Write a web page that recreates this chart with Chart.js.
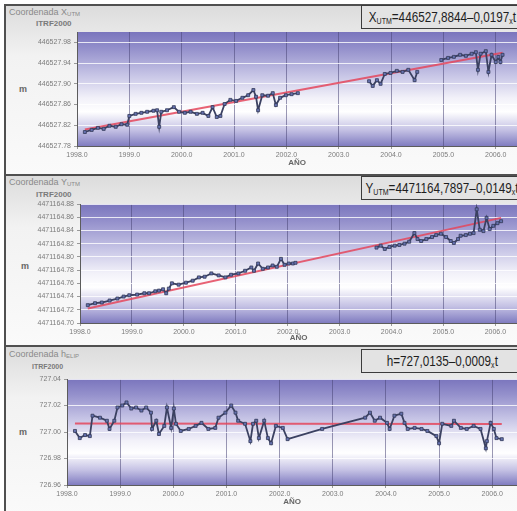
<!DOCTYPE html>
<html lang="es">
<head>
    <meta charset="UTF-8">
    <title>Series temporales de coordenadas</title>
    <script src="https://cdn.jsdelivr.net/npm/chart.js"></script>
    <style>
        html, body {
            margin: 0;
            padding: 0;
            width: 517px;
            height: 511px;
            overflow: hidden;
            background: #ffffff;
            font-family: Arial, "Liberation Sans", sans-serif;
        }
        .panel {
            position: absolute;
            left: 4px;
            width: 530px;
            border-top: 2px solid #505050;
            border-left: 2px solid #505050;
            background: linear-gradient(#dcdcdc, #f2f2f2 30%, #fafafa);
        }
        .panel canvas {
            position: absolute;
            left: 0;
        }
        .ttl {
            position: absolute;
            left: 3px;
            font-size: 9px;
            color: #8a8a8a;
            white-space: nowrap;
        }
        .ttl sub { font-size: 6px; vertical-align: -1px; }
        .sub {
            position: absolute;
            font-size: 8px;
            font-weight: bold;
            color: #7a7a7a;
        }
        .unit {
            position: absolute;
            font-size: 9px;
            font-weight: bold;
            color: #666;
        }
        .eq {
            position: absolute;
            left: 355px;
            width: 160px;
            height: 22px;
            border: 1.5px solid #3c3c3c;
            background: #e3e3e3;
            display: flex;
            justify-content: center;
            align-items: center;
            font-size: 15px;
            color: #1e1e1e;
            white-space: nowrap;
        }
        .eq span {
            display: inline-block;
            flex-shrink: 0;
            transform: scaleX(0.78);
        }
        .eq sub { font-size: 9px; vertical-align: -2px; }
    </style>
</head>
<body>
    <!-- X UTM -->
    <div class="panel" style="top:4px; height:168px;">
        <div class="ttl" style="top:1px;">Coordenada X<sub>UTM</sub></div>
        <div class="sub" style="left:30px; top:13px;">ITRF2000</div>
        <div class="unit" style="left:13px; top:78px;">m</div>
        <canvas id="chartX" width="516" height="162" style="top:0;"></canvas>
        <div class="eq" style="top:-1px;"><span>X<sub>UTM</sub>=446527,8844–0,0197<sub>x</sub>t</span></div>
    </div>

    <!-- Y UTM -->
    <div class="panel" style="top:174px; height:170px;">
        <div class="ttl" style="top:1px;">Coordenada Y<sub>UTM</sub></div>
        <div class="sub" style="left:30px; top:14px;">ITRF2000</div>
        <div class="unit" style="left:15px; top:85px;">m</div>
        <canvas id="chartY" width="516" height="167" style="top:0;"></canvas>
        <div class="eq" style="top:0px;"><span>Y<sub>UTM</sub>=4471164,7897–0,0149<sub>x</sub>t</span></div>
    </div>

    <!-- Altura elipsoidal -->
    <div class="panel" style="top:345px; height:170px;">
        <div class="ttl" style="top:2px;">Coordenada h<sub>ELIP</sub></div>
        <div class="sub" style="left:26px; top:16px; font-size:7px;">ITRF2000</div>
        <div class="unit" style="left:13px; top:80px;">m</div>
        <canvas id="chartH" width="516" height="160" style="top:0;"></canvas>
        <div class="eq" style="top:2px;"><span>h=727,0135–0,0009<sub>x</sub>t</span></div>
    </div>

    <script>
        // Tick values
        const yearTicks = [1998, 1999, 2000, 2001, 2002, 2003, 2004, 2005, 2006];
        const xUtmTicks = [446527.78, 446527.80, 446527.82, 446527.84, 446527.86, 446527.88,
                           446527.90, 446527.92, 446527.94, 446527.96, 446527.98, 446528.00];
        const yUtmTicks = [4471164.70, 4471164.72, 4471164.74, 4471164.76, 4471164.78,
                           4471164.80, 4471164.82, 4471164.84, 4471164.86, 4471164.88];
        const hTicks = [726.96, 726.98, 727.00, 727.02, 727.04];

        // X UTM series (null = no observations, the line breaks there)
        const xYears = [1998.15, 1998.28, 1998.40, 1998.51, 1998.62, 1998.74, 1998.85, 1998.96,
            1999.00, 1999.12, 1999.23, 1999.34, 1999.46, 1999.53, 1999.57, 1999.61, 1999.72, 1999.85, 1999.95,
            2000.06, 2000.17, 2000.29, 2000.40, 2000.51, 2000.59, 2000.67, 2000.74, 2000.82, 2000.93,
            2001.04, 2001.16, 2001.27, 2001.37, 2001.42, 2001.46, 2001.54, 2001.65, 2001.74, 2001.80, 2001.88, 2001.99,
            2002.10, 2002.22, 2002.90,
            2003.58, 2003.65, 2003.73, 2003.80, 2003.88, 2003.99,
            2004.11, 2004.22, 2004.33, 2004.45, 2004.50, 2004.73, 2004.96,
            2005.09, 2005.20, 2005.32, 2005.43, 2005.54, 2005.62, 2005.66, 2005.71, 2005.81, 2005.86, 2005.92,
            2006.00, 2006.05, 2006.09, 2006.13];
        const xUtm = [446527.807, 446527.811, 446527.815, 446527.813, 446527.819, 446527.817, 446527.822, 446527.821,
            446527.838, 446527.842, 446527.844, 446527.846, 446527.848, 446527.849, 446527.817, 446527.846, 446527.849, 446527.855, 446527.846,
            446527.844, 446527.846, 446527.842, 446527.844, 446527.838, 446527.855, 446527.836, 446527.838, 446527.861, 446527.869,
            446527.867, 446527.873, 446527.878, 446527.888, 446527.875, 446527.849, 446527.878, 446527.877, 446527.882, 446527.859, 446527.873, 446527.878,
            446527.880, 446527.882, null,
            446527.905, 446527.896, 446527.907, 446527.900, 446527.919, 446527.921,
            446527.925, 446527.923, 446527.927, 446527.907, 446527.923, null, 446527.946,
            446527.950, 446527.952, 446527.956, 446527.954, 446527.958, 446527.961, 446527.927, 446527.958, 446527.963, 446527.923, 446527.956,
            446527.942, 446527.952, 446527.942, 446527.956];
        const xFitYears = [1998.15, 2006.13];
        const xFit = [446527.812, 446527.960];

        // Y UTM series
        const yYears = [1998.15, 1998.29, 1998.42, 1998.57, 1998.72, 1998.84, 1998.95,
            1999.10, 1999.24, 1999.33, 1999.45, 1999.52, 1999.60, 1999.66, 1999.71, 1999.77, 1999.90,
            2000.04, 2000.17, 2000.29, 2000.40, 2000.53, 2000.67, 2000.80, 2000.91,
            2001.05, 2001.18, 2001.30, 2001.35, 2001.43, 2001.52, 2001.62, 2001.71, 2001.79, 2001.87, 2001.94,
            2002.02, 2002.10, 2002.15, 2002.90,
            2003.71, 2003.79, 2003.87, 2003.96,
            2004.06, 2004.15, 2004.25, 2004.34, 2004.44, 2004.50, 2004.57, 2004.67, 2004.78, 2004.86, 2004.95,
            2005.05, 2005.14, 2005.20, 2005.28, 2005.33, 2005.43, 2005.51, 2005.58, 2005.64, 2005.70, 2005.77, 2005.83, 2005.89, 2005.96,
            2006.04, 2006.11];
        const yUtm = [4471164.727, 4471164.730, 4471164.731, 4471164.734, 4471164.737, 4471164.740, 4471164.742,
            4471164.743, 4471164.745, 4471164.745, 4471164.748, 4471164.749, 4471164.751, 4471164.745, 4471164.752, 4471164.760, 4471164.758,
            4471164.761, 4471164.764, 4471164.769, 4471164.770, 4471164.775, 4471164.772, 4471164.769, 4471164.773,
            4471164.775, 4471164.779, 4471164.784, 4471164.779, 4471164.790, 4471164.782, 4471164.784, 4471164.787, 4471164.785, 4471164.797, 4471164.788,
            4471164.790, 4471164.790, 4471164.791, null,
            4471164.814, 4471164.817, 4471164.812, 4471164.815,
            4471164.817, 4471164.818, 4471164.820, 4471164.823, 4471164.836, 4471164.827, 4471164.824, 4471164.827, 4471164.830, 4471164.833, 4471164.835,
            4471164.830, 4471164.824, 4471164.821, 4471164.827, 4471164.832, 4471164.833, 4471164.835, 4471164.836, 4471164.872, 4471164.841, 4471164.839, 4471164.859, 4471164.842, 4471164.847,
            4471164.851, 4471164.854];
        const yFitYears = [1998.15, 2006.11];
        const yFit = [4471164.722, 4471164.859];

        // h series
        const hYears = [1998.15, 1998.24, 1998.34, 1998.43, 1998.48, 1998.62, 1998.75, 1998.80, 1998.89, 1998.95,
            1999.04, 1999.12, 1999.21, 1999.30, 1999.40, 1999.49, 1999.58, 1999.60, 1999.68, 1999.73, 1999.83, 1999.88, 1999.96,
            2000.01, 2000.05, 2000.14, 2000.29, 2000.42, 2000.53, 2000.66, 2000.79, 2000.85, 2000.98,
            2001.09, 2001.17, 2001.22, 2001.35, 2001.45, 2001.50, 2001.56, 2001.61, 2001.71, 2001.78, 2001.84, 2001.93,
            2002.06, 2002.15, 2002.80,
            2003.61, 2003.70, 2003.79, 2003.89,
            2004.02, 2004.07, 2004.16, 2004.29, 2004.35, 2004.41, 2004.54, 2004.67, 2004.78, 2004.95,
            2005.00, 2005.06, 2005.23, 2005.28, 2005.41, 2005.52, 2005.65, 2005.78, 2005.88, 2005.90, 2005.97,
            2006.03, 2006.08, 2006.18];
        const hElip = [727.0008, 726.9954, 726.9977, 726.9969, 727.0123, 727.0108, 727.0085, 727.0023, 727.0085, 727.0185,
            727.0200, 727.0223, 727.0177, 727.0185, 727.0162, 727.0185, 727.0146, 727.0023, 727.0085, 726.9985, 727.0046, 727.0185, 727.0031,
            727.0177, 727.0062, 727.0008, 727.0023, 727.0046, 727.0069, 727.0023, 727.0031, 727.0108, 727.0146,
            727.0200, 727.0146, 727.0085, 727.0062, 726.9931, 727.0062, 727.0085, 726.9954, 727.0085, 726.9954, 726.9915, 727.0046,
            727.0031, 726.9946, 727.0023,
            727.0108, 727.0146, 727.0085, 727.0108,
            727.0069, 727.0023, 727.0123, 727.0138, 727.0069, 727.0023, 727.0031, 727.0023, 727.0008, 726.9969,
            726.9915, 727.0062, 727.0046, 727.0085, 727.0031, 727.0023, 727.0046, 727.0023, 726.9877, 726.9931, 727.0069,
            727.0023, 726.9954, 726.9946];
        const hFitYears = [1998.15, 2006.18];
        const hFit = [727.0064, 727.0060];

        function toPoints(xs, ys) {
            return xs.map((x, i) => ({x: x, y: ys[i]}));
        }

        // Banded lavender fill behind the plot area
        const plotBackground = {
            id: 'plotBackground',
            beforeDraw(chart) {
                const {ctx, chartArea: a} = chart;
                const g = ctx.createLinearGradient(0, a.top, 0, a.bottom);
                g.addColorStop(0, '#7a75bd');
                g.addColorStop(0.15, '#9591cc');
                g.addColorStop(0.38, '#c7c5e6');
                g.addColorStop(0.58, '#f2f1f9');
                g.addColorStop(0.7, '#ffffff');
                g.addColorStop(0.86, '#c4c1e4');
                g.addColorStop(1, '#807cc0');
                ctx.save();
                ctx.fillStyle = g;
                ctx.fillRect(a.left, a.top, a.right - a.left, a.bottom - a.top);
                ctx.restore();
            }
        };

        function buildChart(id, cfg) {
            return new Chart(document.getElementById(id), {
                type: 'scatter',
                data: {
                    datasets: [
                        {
                            data: toPoints(cfg.years, cfg.values),
                            showLine: true,
                            spanGaps: cfg.spanGaps,
                            borderColor: '#3b4161',
                            borderWidth: 1.8,
                            pointStyle: 'rect',
                            pointRadius: 2.1,
                            pointBackgroundColor: '#6672b0',
                            pointBorderColor: '#343a58',
                            pointBorderWidth: 0.8,
                            order: 1
                        },
                        {
                            data: toPoints(cfg.fitYears, cfg.fitValues),
                            showLine: true,
                            borderColor: 'rgba(228, 70, 92, 0.85)',
                            borderWidth: 2,
                            pointRadius: 0,
                            order: 2
                        }
                    ]
                },
                options: {
                    responsive: false,
                    animation: false,
                    layout: { padding: { top: cfg.padTop, left: 0, right: 0, bottom: 0 } },
                    plugins: {
                        legend: { display: false },
                        tooltip: { enabled: false }
                    },
                    scales: {
                        x: {
                            type: 'linear',
                            min: 1998,
                            max: cfg.yearMax,
                            afterBuildTicks: s => { s.ticks = yearTicks.map(v => ({value: v})); },
                            afterFit: s => { s.height = cfg.xHeight; },
                            ticks: {
                                callback: v => v.toFixed(1),
                                font: { size: 7 },
                                color: '#7c7c7c',
                                padding: 2,
                                maxRotation: 0,
                                autoSkip: false
                            },
                            grid: { color: 'rgba(72, 70, 118, 0.55)', tickLength: 3, tickColor: '#999' },
                            border: { color: '#5c5c5c' },
                            title: {
                                display: true,
                                text: 'AÑO',
                                font: { size: 8, weight: 'bold' },
                                color: '#666',
                                padding: 0
                            }
                        },
                        y: {
                            min: cfg.ticks[0],
                            max: cfg.ticks[cfg.ticks.length - 1],
                            afterBuildTicks: s => { s.ticks = cfg.ticks.map(v => ({value: v})); },
                            afterFit: s => { s.width = cfg.yWidth; },
                            ticks: {
                                callback: v => v.toFixed(2),
                                font: { size: 7 },
                                color: '#7c7c7c',
                                padding: 3
                            },
                            grid: { color: 'rgba(255, 255, 255, 0.8)', tickLength: 3, tickColor: '#999' },
                            border: { color: '#5c5c5c' }
                        }
                    }
                },
                plugins: [plotBackground]
            });
        }

        buildChart('chartX', {
            years: xYears, values: xUtm, fitYears: xFitYears, fitValues: xFit, spanGaps: false,
            ticks: xUtmTicks, yearMax: 2006.41, padTop: 26, xHeight: 22, yWidth: 71
        });
        buildChart('chartY', {
            years: yYears, values: yUtm, fitYears: yFitYears, fitValues: yFit, spanGaps: false,
            ticks: yUtmTicks, yearMax: 2006.42, padTop: 28, xHeight: 20, yWidth: 74
        });
        buildChart('chartH', {
            years: hYears, values: hElip, fitYears: hFitYears, fitValues: hFit, spanGaps: true,
            ticks: hTicks, yearMax: 2006.47, padTop: 32, xHeight: 22, yWidth: 61
        });
    </script>
</body>
</html>
